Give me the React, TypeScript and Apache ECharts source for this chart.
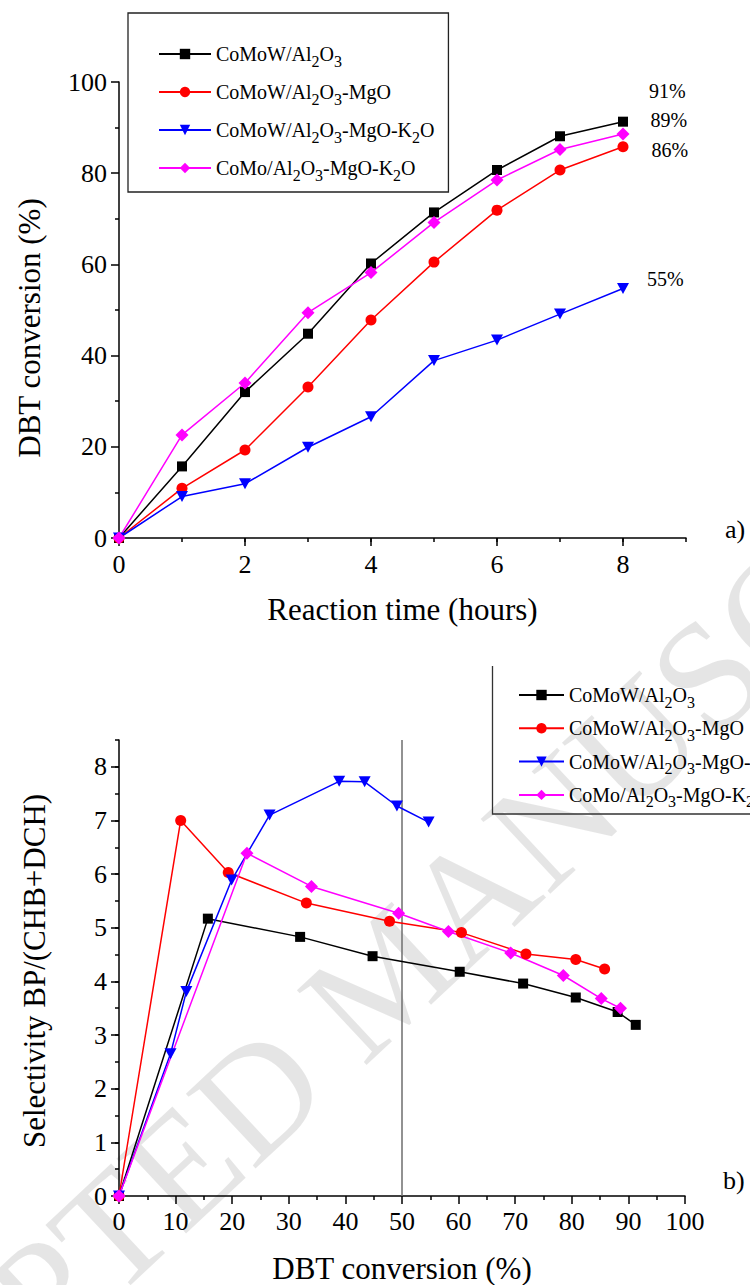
import React, { useEffect, useRef } from "react";
import * as echarts from "echarts";

const FONT = "Liberation Serif, Times New Roman, serif";

// Catalyst names (digits are rendered as subscripts in the legends)
const catalysts = [
  "CoMoW/Al2O3",
  "CoMoW/Al2O3-MgO",
  "CoMoW/Al2O3-MgO-K2O",
  "CoMo/Al2O3-MgO-K2O",
];

// a) DBT conversion (%) against reaction time (h)
const hours = [0, 1, 2, 3, 4, 5, 6, 7, 8];
const convCoMoW = [0, 15.7, 32.0, 44.8, 60.2, 71.4, 80.7, 88.1, 91.3];
const convCoMoWMgO = [0, 10.9, 19.3, 33.1, 47.8, 60.5, 71.9, 80.7, 85.8];
const convCoMoWMgOK = [0, 9.1, 11.9, 19.9, 26.6, 38.9, 43.4, 49.1, 54.7];
const convCoMoMgOK = [0, 22.6, 34.0, 49.4, 58.2, 69.2, 78.5, 85.2, 88.6];

// b) Selectivity BP/(CHB+DCH) against DBT conversion
const selCoMoW = [0, 5.17, 4.83, 4.47, 4.18, 3.96, 3.7, 3.43, 3.19];
const selCoMoWMgO = [0, 7.0, 6.03, 5.46, 5.12, 4.91, 4.51, 4.41, 4.23];
const selCoMoWMgOK = [0, 2.65, 3.81, 5.89, 7.1, 7.73, 7.72, 7.27, 6.97];
const selCoMoMgOK = [0, 6.39, 5.77, 5.27, 4.93, 4.53, 4.11, 3.68, 3.5];

// Axis ticks
const timeTicks = [0, 2, 4, 6, 8];
const selTicks = [0, 1, 2, 3, 4, 5, 6, 7, 8];
const refConversion = 50;

const conversions = [convCoMoW, convCoMoWMgO, convCoMoWMgOK, convCoMoMgOK];
const selectivities = [selCoMoW, selCoMoWMgO, selCoMoWMgOK, selCoMoMgOK];

const looks = [
  { symbol: "rect", size: 10, rotate: 0, color: "#000000", offset: [16, -31] },
  { symbol: "circle", size: 11, rotate: 0, color: "#ff0000", offset: [18, 3] },
  { symbol: "triangle", size: [12, 11], rotate: 180, color: "#0000ff", offset: [13, -10] },
  { symbol: "diamond", size: [13, 13], rotate: 0, color: "#ff00ff", offset: [16, -14] },
];

const subFormatter = (name: string) => name.replace(/(\d)/g, "{s|$1}");

const legendText = {
  fontFamily: FONT,
  fontSize: 20,
  color: "#000",
  rich: {
    s: { fontFamily: FONT, fontSize: 16, color: "#000", padding: [14, 0, 0, 0] },
  },
};

const axisLineStyle = { color: "#000", width: 1.5 };
const labelStyle = { fontFamily: FONT, fontSize: 26, color: "#000" };
const nameStyle = { fontFamily: FONT, fontSize: 31, color: "#000" };

function buildOption() {
  const series: any[] = [];
  catalysts.forEach((name, k) => {
    const lk = looks[k];
    const conv = conversions[k];
    const data: any[] = hours.map((h, i) => [h, conv[i]]);
    const last = data.length - 1;
    data[last] = {
      value: data[last],
      label: {
        show: true,
        position: "right",
        distance: 5,
        offset: lk.offset,
        formatter: (p: any) => `${Math.round(p.value[1])}%`,
        fontFamily: FONT,
        fontSize: 20,
        color: "#000",
      },
    };
    series.push({
      name,
      type: "line",
      xAxisIndex: 0,
      yAxisIndex: 0,
      data,
      symbol: lk.symbol,
      symbolSize: lk.size,
      symbolRotate: lk.rotate,
      showAllSymbol: true,
      itemStyle: { color: lk.color },
      lineStyle: { color: lk.color, width: 1.5 },
      z: 3,
    });
  });
  catalysts.forEach((name, k) => {
    const lk = looks[k];
    const conv = conversions[k];
    const sel = selectivities[k];
    const s: any = {
      name,
      type: "line",
      xAxisIndex: 2,
      yAxisIndex: 1,
      data: conv.map((c, i) => [c, sel[i]]),
      symbol: lk.symbol,
      symbolSize: lk.size,
      symbolRotate: lk.rotate,
      showAllSymbol: true,
      itemStyle: { color: lk.color },
      lineStyle: { color: lk.color, width: 1.5 },
      z: 3,
    };
    if (k === 0) {
      s.markLine = {
        silent: true,
        symbol: ["none", "none"],
        label: { show: false },
        lineStyle: { color: "#6e6e6e", width: 1.5, type: "solid" },
        data: [{ xAxis: refConversion }],
        z: 2,
      };
    }
    series.push(s);
  });

  return {
    animation: false,
    backgroundColor: "#ffffff",
    grid: [
      { left: 119, top: 82, width: 567, height: 456 },
      { left: 119, top: 740, width: 566, height: 457 },
    ],
    xAxis: [
      {
        gridIndex: 0,
        type: "value",
        position: "bottom",
        min: 0,
        max: 9,
        interval: 1,
        axisLine: { show: true, onZero: false, lineStyle: axisLineStyle },
        axisTick: { show: true, length: 8, customValues: timeTicks, lineStyle: axisLineStyle },
        axisLabel: { ...labelStyle, margin: 13, customValues: timeTicks },
        splitLine: { show: false },
        name: "Reaction time (hours)",
        nameLocation: "middle",
        nameGap: 56,
        nameTextStyle: nameStyle,
      },
      {
        gridIndex: 0,
        type: "value",
        position: "bottom",
        min: 0,
        max: 9,
        interval: 1,
        axisLine: { show: false },
        axisTick: { show: true, length: 4, lineStyle: axisLineStyle },
        axisLabel: { show: false },
        splitLine: { show: false },
      },
      {
        gridIndex: 1,
        type: "value",
        position: "bottom",
        min: 0,
        max: 100,
        interval: 10,
        axisLine: { show: true, onZero: false, lineStyle: axisLineStyle },
        axisTick: { show: true, length: 8, lineStyle: axisLineStyle },
        minorTick: { show: true, splitNumber: 2, length: 4, lineStyle: axisLineStyle },
        axisLabel: { ...labelStyle, margin: 12 },
        splitLine: { show: false },
        name: "DBT conversion (%)",
        nameLocation: "middle",
        nameGap: 57,
        nameTextStyle: nameStyle,
      },
    ],
    yAxis: [
      {
        gridIndex: 0,
        type: "value",
        position: "left",
        min: 0,
        max: 100,
        interval: 20,
        axisLine: { show: true, onZero: false, lineStyle: axisLineStyle },
        axisTick: { show: true, length: 8, lineStyle: axisLineStyle },
        minorTick: { show: true, splitNumber: 2, length: 4, lineStyle: axisLineStyle },
        axisLabel: { ...labelStyle, margin: 12 },
        splitLine: { show: false },
      },
      {
        gridIndex: 1,
        type: "value",
        position: "left",
        min: 0,
        max: 8.5,
        interval: 1,
        axisLine: { show: true, onZero: false, lineStyle: axisLineStyle },
        axisTick: { show: true, length: 8, customValues: selTicks, lineStyle: axisLineStyle },
        axisLabel: { ...labelStyle, margin: 12, customValues: selTicks },
        splitLine: { show: false },
      },
      {
        gridIndex: 1,
        type: "value",
        position: "left",
        min: 0,
        max: 8.5,
        interval: 0.5,
        axisLine: { show: false },
        axisTick: { show: true, length: 4, lineStyle: axisLineStyle },
        axisLabel: { show: false },
        splitLine: { show: false },
      },
    ],
    legend: [
      {
        orient: "vertical",
        left: 128,
        top: 13,
        padding: [31, 14, 9, 30],
        itemWidth: 52,
        itemHeight: 13,
        itemGap: 13,
        borderColor: "#222",
        borderWidth: 1.3,
        selectedMode: false,
        data: catalysts,
        formatter: subFormatter,
        textStyle: legendText,
      },
      {
        orient: "vertical",
        left: 518,
        top: 685,
        padding: 0,
        itemWidth: 45,
        itemHeight: 13,
        itemGap: 8.3,
        selectedMode: false,
        data: catalysts,
        formatter: subFormatter,
        textStyle: legendText,
      },
    ],
    graphic: [
      {
        type: "text",
        z: 0,
        silent: true,
        x: 386,
        y: 975,
        rotation: (43 * Math.PI) / 180,
        style: {
          text: "ACCEPTED MANUSCRIPT",
          fontFamily: FONT,
          fontSize: 156,
          fill: "rgba(0,0,0,0.1)",
          textAlign: "center",
          textVerticalAlign: "middle",
          verticalAlign: "middle",
        },
      },
      {
        type: "text",
        x: 29.5,
        y: 328,
        rotation: Math.PI / 2,
        style: {
          text: "DBT conversion (%)",
          fontFamily: FONT,
          fontSize: 31,
          fill: "#000",
          textAlign: "center",
          textVerticalAlign: "middle",
          verticalAlign: "middle",
        },
      },
      {
        type: "text",
        x: 34.5,
        y: 971,
        rotation: Math.PI / 2,
        style: {
          text: "Selectivity BP/(CHB+DCH)",
          fontFamily: FONT,
          fontSize: 31,
          fill: "#000",
          textAlign: "center",
          textVerticalAlign: "middle",
          verticalAlign: "middle",
        },
      },
      {
        type: "text",
        x: 725,
        y: 529,
        style: {
          text: "a)",
          fontFamily: FONT,
          fontSize: 26,
          fill: "#000",
          textAlign: "left",
          textVerticalAlign: "middle",
          verticalAlign: "middle",
        },
      },
      {
        type: "text",
        x: 723,
        y: 1180,
        style: {
          text: "b)",
          fontFamily: FONT,
          fontSize: 26,
          fill: "#000",
          textAlign: "left",
          textVerticalAlign: "middle",
          verticalAlign: "middle",
        },
      },
      {
        type: "polyline",
        silent: true,
        shape: { points: [[492.5, 666], [492.5, 814], [752, 814]] },
        style: { stroke: "#333", lineWidth: 1.3, fill: null },
      },
    ],
    series,
  };
}

export default function App() {
  const ref = useRef<HTMLDivElement>(null);
  useEffect(() => {
    if (!ref.current) return;
    const chart = echarts.init(ref.current, undefined, { renderer: "svg" });
    chart.setOption(buildOption() as any);
    return () => chart.dispose();
  }, []);
  return (
    <div
      ref={ref}
      style={{ position: "absolute", left: 0, top: 0, width: 750, height: 1285, background: "#fff" }}
    />
  );
}
